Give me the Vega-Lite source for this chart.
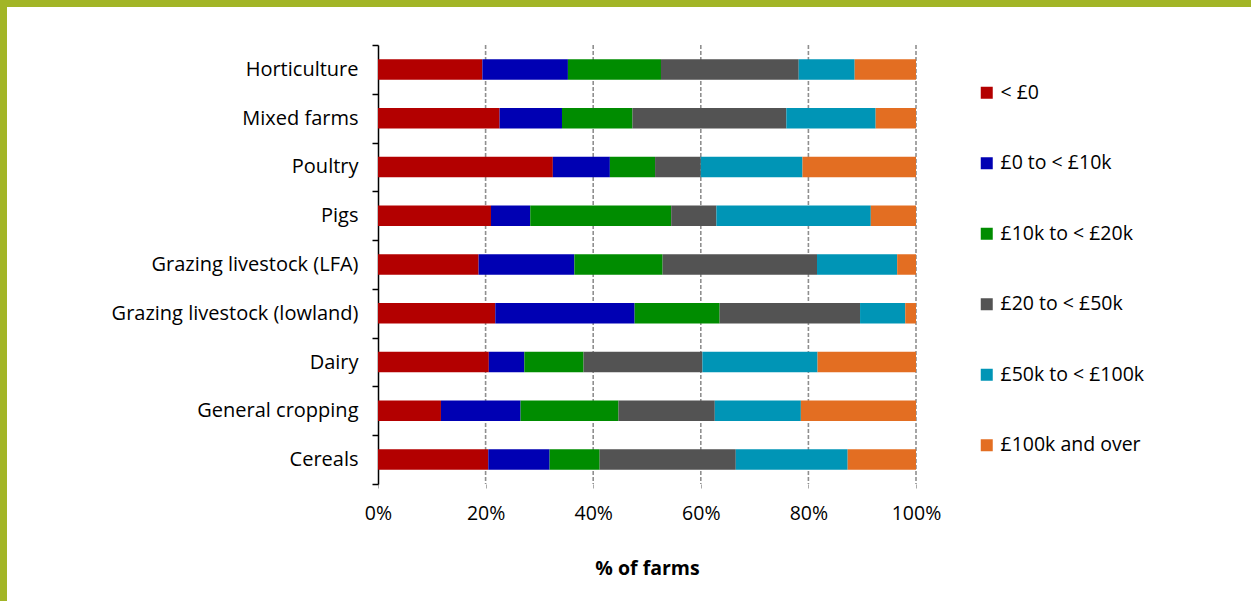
{
  "$schema": "https://vega.github.io/schema/vega-lite/v6.json",
  "autosize": {"type": "none"},
  "background": "#A2B527",
  "padding": {"top": 7, "left": 7, "right": 0, "bottom": 0},
  "width": 1244,
  "height": 594,
  "config": {
    "view": {"fill": "white", "stroke": null},
    "font": "Open Sans"
  },
  "encoding": {
    "x": {
      "field": "share",
      "type": "quantitative",
      "scale": {"domain": [0, 100], "range": [371, 909], "nice": false},
      "axis": {
        "title": "% of farms",
        "offset": -117,
        "values": [0, 20, 40, 60, 80, 100],
        "labelExpr": "datum.value + '%'",
        "labelFlush": false,
        "domain": false,
        "grid": false,
        "tickColor": "#aaaaaa",
        "tickSize": 4,
        "labelPadding": 16,
        "labelFontSize": 19.5,
        "labelColor": "black",
        "titleFontSize": 19.5,
        "titleFontWeight": "bold",
        "titleColor": "black",
        "titlePadding": 37
      }
    }
  },
  "layer": [
    {
      "data": {"values": [{"share": 20}, {"share": 40}, {"share": 60}, {"share": 80}, {"share": 100}]},
      "mark": {"type": "rule", "color": "#8f8f8f", "strokeDash": [4, 2], "strokeWidth": 1.6},
      "encoding": {
        "y": {"datum": 0, "type": "quantitative", "scale": {"domain": [0, 1], "range": [38, 477]}, "axis": null},
        "y2": {"datum": 1}
      }
    },
    {
      "data": {
        "values": [
          {"type": "Horticulture", "band": "< £0", "k": 1, "share": 19.4},
          {"type": "Horticulture", "band": "£0 to < £10k", "k": 2, "share": 15.9},
          {"type": "Horticulture", "band": "£10k to < £20k", "k": 3, "share": 17.3},
          {"type": "Horticulture", "band": "£20 to < £50k", "k": 4, "share": 25.6},
          {"type": "Horticulture", "band": "£50k to < £100k", "k": 5, "share": 10.4},
          {"type": "Horticulture", "band": "£100k and over", "k": 6, "share": 11.4},
          {"type": "Mixed farms", "band": "< £0", "k": 1, "share": 22.6},
          {"type": "Mixed farms", "band": "£0 to < £10k", "k": 2, "share": 11.6},
          {"type": "Mixed farms", "band": "£10k to < £20k", "k": 3, "share": 13.1},
          {"type": "Mixed farms", "band": "£20 to < £50k", "k": 4, "share": 28.6},
          {"type": "Mixed farms", "band": "£50k to < £100k", "k": 5, "share": 16.6},
          {"type": "Mixed farms", "band": "£100k and over", "k": 6, "share": 7.5},
          {"type": "Poultry", "band": "< £0", "k": 1, "share": 32.5},
          {"type": "Poultry", "band": "£0 to < £10k", "k": 2, "share": 10.6},
          {"type": "Poultry", "band": "£10k to < £20k", "k": 3, "share": 8.4},
          {"type": "Poultry", "band": "£20 to < £50k", "k": 4, "share": 8.5},
          {"type": "Poultry", "band": "£50k to < £100k", "k": 5, "share": 18.9},
          {"type": "Poultry", "band": "£100k and over", "k": 6, "share": 21.1},
          {"type": "Pigs", "band": "< £0", "k": 1, "share": 21.0},
          {"type": "Pigs", "band": "£0 to < £10k", "k": 2, "share": 7.3},
          {"type": "Pigs", "band": "£10k to < £20k", "k": 3, "share": 26.2},
          {"type": "Pigs", "band": "£20 to < £50k", "k": 4, "share": 8.4},
          {"type": "Pigs", "band": "£50k to < £100k", "k": 5, "share": 28.7},
          {"type": "Pigs", "band": "£100k and over", "k": 6, "share": 8.4},
          {"type": "Grazing livestock (LFA)", "band": "< £0", "k": 1, "share": 18.7},
          {"type": "Grazing livestock (LFA)", "band": "£0 to < £10k", "k": 2, "share": 17.8},
          {"type": "Grazing livestock (LFA)", "band": "£10k to < £20k", "k": 3, "share": 16.4},
          {"type": "Grazing livestock (LFA)", "band": "£20 to < £50k", "k": 4, "share": 28.7},
          {"type": "Grazing livestock (LFA)", "band": "£50k to < £100k", "k": 5, "share": 14.9},
          {"type": "Grazing livestock (LFA)", "band": "£100k and over", "k": 6, "share": 3.5},
          {"type": "Grazing livestock (lowland)", "band": "< £0", "k": 1, "share": 21.8},
          {"type": "Grazing livestock (lowland)", "band": "£0 to < £10k", "k": 2, "share": 25.9},
          {"type": "Grazing livestock (lowland)", "band": "£10k to < £20k", "k": 3, "share": 15.8},
          {"type": "Grazing livestock (lowland)", "band": "£20 to < £50k", "k": 4, "share": 26.1},
          {"type": "Grazing livestock (lowland)", "band": "£50k to < £100k", "k": 5, "share": 8.4},
          {"type": "Grazing livestock (lowland)", "band": "£100k and over", "k": 6, "share": 2.0},
          {"type": "Dairy", "band": "< £0", "k": 1, "share": 20.6},
          {"type": "Dairy", "band": "£0 to < £10k", "k": 2, "share": 6.6},
          {"type": "Dairy", "band": "£10k to < £20k", "k": 3, "share": 11.0},
          {"type": "Dairy", "band": "£20 to < £50k", "k": 4, "share": 22.1},
          {"type": "Dairy", "band": "£50k to < £100k", "k": 5, "share": 21.4},
          {"type": "Dairy", "band": "£100k and over", "k": 6, "share": 18.3},
          {"type": "General cropping\u00a0", "band": "< £0", "k": 1, "share": 11.7},
          {"type": "General cropping\u00a0", "band": "£0 to < £10k", "k": 2, "share": 14.8},
          {"type": "General cropping\u00a0", "band": "£10k to < £20k", "k": 3, "share": 18.2},
          {"type": "General cropping\u00a0", "band": "£20 to < £50k", "k": 4, "share": 17.9},
          {"type": "General cropping\u00a0", "band": "£50k to < £100k", "k": 5, "share": 16.0},
          {"type": "General cropping\u00a0", "band": "£100k and over", "k": 6, "share": 21.4},
          {"type": "Cereals", "band": "< £0", "k": 1, "share": 20.5},
          {"type": "Cereals", "band": "£0 to < £10k", "k": 2, "share": 11.4},
          {"type": "Cereals", "band": "£10k to < £20k", "k": 3, "share": 9.3},
          {"type": "Cereals", "band": "£20 to < £50k", "k": 4, "share": 25.3},
          {"type": "Cereals", "band": "£50k to < £100k", "k": 5, "share": 20.8},
          {"type": "Cereals", "band": "£100k and over", "k": 6, "share": 12.7}
        ]
      },
      "mark": {"type": "bar", "height": {"band": 0.42}},
      "encoding": {
        "y": {
          "field": "type",
          "type": "nominal",
          "sort": null,
          "scale": {"range": [38, 477], "paddingInner": 0, "paddingOuter": 0},
          "axis": {
            "title": null,
            "offset": -371,
            "tickBand": "extent",
            "domainColor": "black",
            "domainWidth": 1.5,
            "tickColor": "black",
            "tickWidth": 1.5,
            "tickSize": 6,
            "labelPadding": 14,
            "labelFontSize": 20,
            "labelColor": "black",
            "labelLimit": 400
          }
        },
        "color": {
          "field": "band",
          "type": "nominal",
          "scale": {
            "domain": ["< £0", "£0 to < £10k", "£10k to < £20k", "£20 to < £50k", "£50k to < £100k", "£100k and over"],
            "range": ["#B30000", "#0000B3", "#008C00", "#535353", "#0095B6", "#E36E22"]
          },
          "legend": {
            "title": null,
            "orient": "none",
            "legendX": 970,
            "legendY": 76,
            "symbolType": "square",
            "symbolSize": 144,
            "symbolStrokeWidth": 0,
            "labelFontSize": 19.5,
            "labelColor": "black",
            "labelOffset": 4,
            "rowPadding": 49.5,
            "labelLimit": 300
          }
        },
        "order": {"field": "k", "type": "quantitative"}
      }
    }
  ],
  "resolve": {"scale": {"y": "independent"}}
}
